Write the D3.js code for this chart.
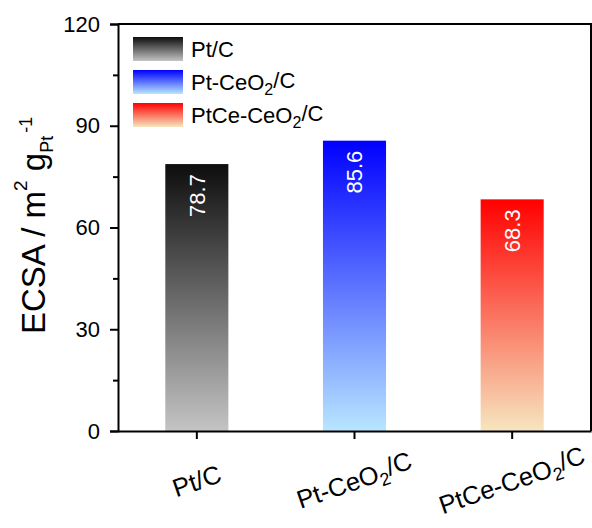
<!DOCTYPE html>
<html>
<head>
<meta charset="utf-8">
<script src="https://cdn.jsdelivr.net/npm/d3@7"></script>
<style>
  html, body { margin: 0; padding: 0; background: #fff; }
  svg { display: block; font-family: "Liberation Sans", Arial, sans-serif; }
</style>
</head>
<body>
<svg id="chart"></svg>
<script>
const categories = ["Pt/C", "Pt-CeO2/C", "PtCe-CeO2/C"];
const ecsa = [78.7, 85.6, 68.3];
const yTicks = [0, 30, 60, 90, 120];
const yMinorTicks = [15, 45, 75, 105];
const gradStops = [
    ["#0d0d0d", "#c4c4c4"],
    ["#0000ff", "#b8e6ff"],
    ["#ff0000", "#f6e6bf"]
];

const width = 592, height = 528;
const plotLeft = 118, plotRight = 591, plotTop = 24, plotBottom = 431;

const svg = d3.select("#chart")
    .attr("width", width)
    .attr("height", height);

// gradients
const defs = svg.append("defs");
gradStops.forEach((s, i) => {
    const g = defs.append("linearGradient")
        .attr("id", "grad" + i)
        .attr("x1", 0).attr("y1", 0)
        .attr("x2", 0).attr("y2", 1);
    g.append("stop").attr("offset", "0%").attr("stop-color", s[0]);
    g.append("stop").attr("offset", "100%").attr("stop-color", s[1]);
});

const x = d3.scaleBand()
    .domain(categories)
    .range([plotLeft, plotRight])
    .paddingInner(0.6)
    .paddingOuter(0.3);

const y = d3.scaleLinear()
    .domain([0, 120])
    .range([plotBottom, plotTop]);

// writes "CeO2" with subscript 2
function richText(sel, str, subSize) {
    const parts = str.split("O2");
    parts.forEach((p, i) => {
        if (i > 0) {
            sel.append("tspan").attr("font-size", subSize).attr("dy", "0.3em").text("2");
            sel.append("tspan").attr("dy", "-0.3em").text(p);
        } else {
            sel.append("tspan").text(p + (parts.length > 1 ? "O" : ""));
        }
    });
}

// bars
svg.selectAll(".bar")
    .data(categories)
    .enter()
    .append("rect")
    .attr("class", "bar")
    .attr("x", d => x(d))
    .attr("y", (d, i) => y(ecsa[i]))
    .attr("width", x.bandwidth())
    .attr("height", (d, i) => y(0) - y(ecsa[i]))
    .attr("fill", (d, i) => `url(#grad${i})`);

// value labels, reading upward
svg.selectAll(".val")
    .data(categories)
    .enter()
    .append("text")
    .attr("class", "val")
    .attr("transform", (d, i) => `translate(${x(d) + x.bandwidth() / 2},${y(ecsa[i]) + 10}) rotate(-90)`)
    .attr("text-anchor", "end")
    .attr("dy", "0.35em")
    .attr("font-size", 22)
    .attr("fill", "#fff")
    .text((d, i) => ecsa[i].toFixed(1));

// y axis
const yAxis = svg.append("g")
    .attr("transform", `translate(${plotLeft},0)`)
    .call(d3.axisLeft(y).tickValues(yTicks).tickSize(8).tickPadding(10).tickFormat(d3.format("d")));
svg.append("g")
    .attr("transform", `translate(${plotLeft},0)`)
    .call(d3.axisLeft(y).tickValues(yMinorTicks).tickSize(5).tickFormat(""))
    .select(".domain").remove();
yAxis.selectAll("text").attr("font-size", 22).attr("fill", "#000");

// x axis
svg.append("g")
    .attr("transform", `translate(0,${plotBottom})`)
    .call(d3.axisBottom(x).tickSize(8).tickSizeOuter(0).tickFormat(""));

svg.selectAll(".domain, .tick line")
    .attr("stroke", "#000")
    .attr("stroke-width", 2);

// frame top/right
svg.append("path")
    .attr("d", `M${plotLeft},${plotTop}H${plotRight}V${plotBottom}`)
    .attr("fill", "none")
    .attr("stroke", "#000")
    .attr("stroke-width", 2);

// x labels
categories.forEach(c => {
    const t = svg.append("text")
        .attr("transform", `translate(${x(c) + x.bandwidth() / 2},481) rotate(-19)`)
        .attr("text-anchor", "middle")
        .attr("dy", "0.35em")
        .attr("font-size", 25.5);
    richText(t, c, 18);
});

// y label
const yl = svg.append("text")
    .attr("transform", "translate(45,334) rotate(-90)")
    .attr("font-size", 33);
yl.append("tspan").text("ECSA / m");
yl.append("tspan").attr("font-size", 19).attr("dy", -18).text("2");
yl.append("tspan").attr("dy", 18).text(" g");
yl.append("tspan").attr("font-size", 18).attr("dy", 8).text("Pt");
yl.append("tspan").attr("font-size", 18).attr("dx", 3).attr("dy", -21).text("-1");

// legend
const legend = svg.append("g");
categories.forEach((c, i) => {
    legend.append("rect")
        .attr("x", 133)
        .attr("y", 37 + i * 33)
        .attr("width", 50)
        .attr("height", 24)
        .attr("fill", `url(#grad${i})`);
    const t = legend.append("text")
        .attr("x", 191)
        .attr("y", 49 + i * 33)
        .attr("dy", "0.35em")
        .attr("font-size", 22);
    richText(t, c, 16);
});
</script>
</body>
</html>
